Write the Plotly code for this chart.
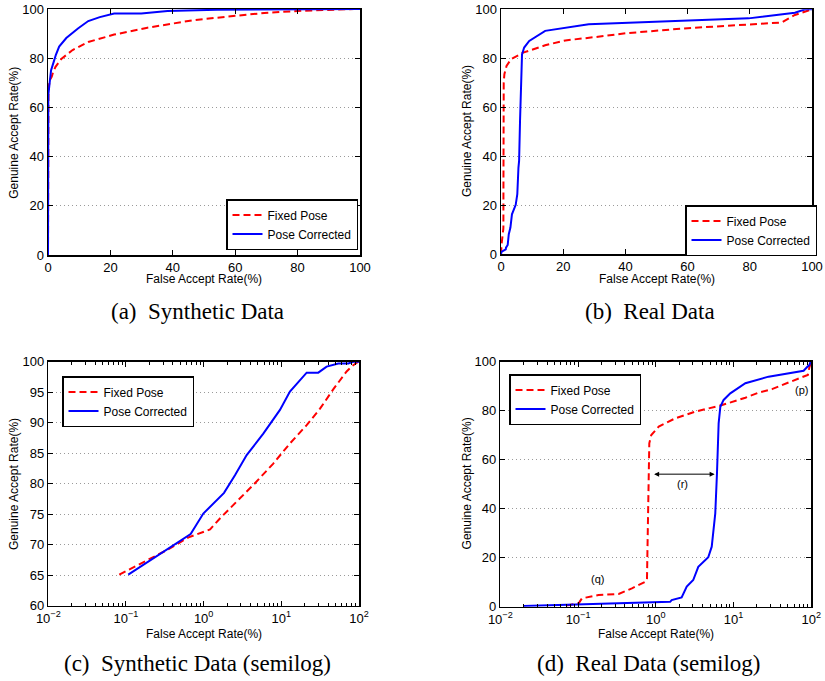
import math
import plotly.graph_objects as go

# ---------------- data ----------------
# Synthetic data
syn_fixed_far = [0.082, 0.151, 0.334, 0.64, 1.21, 1.62, 2.41, 4.36, 7.88, 12.9, 21.2, 31.5, 46.8, 69.3, 82, 98]
syn_fixed_gar = [65.1, 66.8, 69.1, 71.2, 72.5, 74.3, 76.5, 79.8, 83.3, 86.6, 89.6, 92.3, 95.5, 98.4, 99.3, 100]
syn_corr_far = [0.107, 0.68, 0.99, 1.83, 2.53, 3.58, 5.86, 9.6, 12.9, 16.6, 21.2, 29.9, 38.3, 54.2, 72.9, 84.6, 100]
syn_corr_gar = [65.1, 71.75, 75.1, 78.5, 81.4, 84.7, 88.2, 92.1, 95.1, 96.7, 98.2, 98.2, 99.2, 99.7, 99.7, 100, 100]

# Real data
real_fixed_far = [0.071, 0.102, 0.112, 0.184, 0.333, 0.493, 0.732, 0.77, 0.785, 0.80, 0.825, 0.875,
                  1.09, 1.78, 3.22, 7.1, 14.2, 20.7, 31.2, 40, 60, 83.8, 90.3, 94.5, 100]
real_fixed_gar = [0.5, 1.4, 3.4, 4.8, 5.2, 7.5, 10.2, 10.9, 27.2, 54.4, 66.7, 70.1,
                  73.5, 76.9, 79.6, 82.3, 85.3, 87.3, 88.8, 90.2, 92.3, 93.9, 94.6, 97.7, 100]
real_corr_far = [0.02, 0.102, 1.53, 1.60, 2.15, 2.50, 3.03, 3.52, 4.73, 5.24, 5.61, 5.82, 6.12, 6.43,
                 6.76, 7.45, 9.08, 14.2, 28.2, 79.6, 90.3, 94.5, 97.8, 100]
real_corr_gar = [0.3, 1.0, 2.0, 2.7, 3.8, 8.2, 10.9, 16.3, 20.2, 24.5, 35.4, 38.1, 54.4, 74.8,
                 81.6, 84.4, 87.1, 91.2, 93.9, 96.3, 98.1, 98.6, 100, 100]

origin_far = [0]
origin_gar = [0]

series_names = ["Fixed Pose", "Pose Corrected"]
captions = ["(a)\u2002Synthetic Data", "(b)\u2002Real Data",
            "(c)\u2002Synthetic Data (semilog)", "(d)\u2002Real Data (semilog)"]
x_title = "False Accept Rate(%)"
y_title = "Genuine Accept Rate(%)"
log_tickvals = [0.01, 0.1, 1, 10, 100]
log_ticktext = ["10<sup>\u22122</sup>", "10<sup>\u22121</sup>", "10<sup>0</sup>", "10<sup>1</sup>", "10<sup>2</sup>"]

# (p), (q), (r) annotations in panel (d)
note_p = (75.9, 88.4)
note_q = (0.179, 11.2)
note_r = (2.21, 50.1)
arrow_r = (0.91, 5.71, 54.1)

# ---------------- layout helpers ----------------
W, H = 825, 681
SANS = "Liberation Sans, Arial, Helvetica, sans-serif"
SERIF = "Liberation Serif, Times New Roman, serif"
RED = "#ff0000"
BLUE = "#0000ff"


def px(xp):
    return xp / W


def py(yp):
    return 1 - yp / H


def xd(a, b):
    return [px(a), px(b)]


def yd(top, bottom):
    return [py(bottom), py(top)]


fig = go.Figure()

panels = [
    dict(x="x", y="y", leg="legend", log=False,
         f=(origin_far + syn_fixed_far, origin_gar + syn_fixed_gar),
         c=(origin_far + syn_corr_far, origin_gar + syn_corr_gar)),
    dict(x="x2", y="y2", leg="legend2", log=False,
         f=(origin_far + real_fixed_far, origin_gar + real_fixed_gar),
         c=(origin_far + real_corr_far, origin_gar + real_corr_gar)),
    dict(x="x3", y="y3", leg="legend3", log=True,
         f=(syn_fixed_far, syn_fixed_gar), c=(syn_corr_far, syn_corr_gar)),
    dict(x="x4", y="y4", leg="legend4", log=True,
         f=(real_fixed_far, real_fixed_gar), c=(real_corr_far, real_corr_gar)),
]

for p in panels:
    fig.add_trace(go.Scatter(x=p["f"][0], y=p["f"][1], mode="lines", name=series_names[0],
                             line=dict(color=RED, width=2, dash="7px,4px"),
                             xaxis=p["x"], yaxis=p["y"], legend=p["leg"]))
    fig.add_trace(go.Scatter(x=p["c"][0], y=p["c"][1], mode="lines", name=series_names[1],
                             line=dict(color=BLUE, width=2),
                             xaxis=p["x"], yaxis=p["y"], legend=p["leg"]))

common = dict(showline=True, linecolor="black", linewidth=1.5, mirror="ticks",
              ticks="inside", ticklen=5, tickwidth=1, tickcolor="black",
              zeroline=False, automargin=False, ticklabeloverflow="allow",
              tickfont=dict(family=SANS, size=13, color="black"))

minor_log = [k * 10 ** e for e in range(-2, 2) for k in range(2, 10)]


def xaxis_cfg(domain, anchor, log):
    cfg = dict(common, domain=domain, anchor=anchor, showgrid=False)
    if log:
        cfg.update(type="log", range=[-2, 2], tickmode="array", tickvals=log_tickvals,
                   ticktext=log_ticktext,
                   minor=dict(ticks="inside", ticklen=3, tickcolor="black", tickmode="array",
                              tickvals=minor_log, showgrid=False))
    else:
        cfg.update(range=[0, 100], dtick=20, tick0=0)
    return cfg


def yaxis_cfg(domain, anchor, rng, dt):
    return dict(common, domain=domain, anchor=anchor, range=rng, dtick=dt, tick0=rng[0],
                showgrid=True, gridcolor="#9a9a9a", gridwidth=1, griddash="1px,3px")


legend_common = dict(bgcolor="white", bordercolor="black", borderwidth=1.5,
                     font=dict(family=SANS, size=12, color="black"),
                     xanchor="left", yanchor="top", tracegroupgap=0)

fig.update_layout(
    width=W, height=H, margin=dict(l=0, r=0, t=0, b=0),
    paper_bgcolor="white", plot_bgcolor="white", hovermode=False,
    xaxis=xaxis_cfg(xd(48, 360), "y", False),
    yaxis=yaxis_cfg(yd(9, 255), "x", [0, 100], 20),
    xaxis2=xaxis_cfg(xd(501, 812), "y2", False),
    yaxis2=yaxis_cfg(yd(9.3, 254.3), "x2", [0, 100], 20),
    xaxis3=xaxis_cfg(xd(48.3, 359), "y3", True),
    yaxis3=yaxis_cfg(yd(361.7, 605.7), "x3", [60, 100], 5),
    xaxis4=xaxis_cfg(xd(500.3, 811.3), "y4", True),
    yaxis4=yaxis_cfg(yd(361.7, 606.7), "x4", [0, 100], 20),
    legend=dict(legend_common, x=px(226), y=py(199)),
    legend2=dict(legend_common, x=px(685), y=py(205)),
    legend3=dict(legend_common, x=px(62), y=py(376)),
    legend4=dict(legend_common, x=px(509), y=py(374)),
    showlegend=True,
)

# axis titles (placed as text at the reference positions)
title_font = dict(family=SANS, size=12, color="black")
x_title_pos = [(204, 278.5), (657, 278.5), (204, 634), (656, 634)]
y_title_pos = [(13.3, 132.5), (467, 131), (13.3, 483.7), (466.7, 483.7)]
for (cx, cy) in x_title_pos:
    fig.add_annotation(text=x_title, x=px(cx), y=py(cy), xref="paper", yref="paper",
                       showarrow=False, xanchor="center", yanchor="middle", font=title_font)
for (cx, cy) in y_title_pos:
    fig.add_annotation(text=y_title, x=px(cx), y=py(cy), xref="paper", yref="paper",
                       showarrow=False, xanchor="center", yanchor="middle", textangle=-90,
                       font=title_font)

# captions
cap_pos = [(197, 311), (650, 311), (197, 663), (649, 663)]
for text, (cx, cy) in zip(captions, cap_pos):
    fig.add_annotation(text=text, x=px(cx), y=py(cy), xref="paper", yref="paper",
                       showarrow=False, xanchor="center", yanchor="middle",
                       font=dict(family=SERIF, size=23, color="black"))

note_font = dict(family=SANS, size=11, color="black")
for label, (nx, ny) in zip(["(p)", "(q)", "(r)"], [note_p, note_q, note_r]):
    fig.add_annotation(text=label, x=math.log10(nx), y=ny, xref="x4", yref="y4",
                       showarrow=False, font=note_font)

fig.add_annotation(text="", x=math.log10(arrow_r[1]), y=arrow_r[2],
                   ax=math.log10(arrow_r[0]), ay=arrow_r[2], xref="x4", yref="y4",
                   axref="x4", ayref="y4", showarrow=True, arrowhead=2, startarrowhead=2,
                   arrowside="end+start", arrowwidth=1, arrowsize=1, arrowcolor="black",
                   standoff=0, startstandoff=0)

# remove the page's default body margin so the figure sits at the window's corner
fig.write_html("out.html", config={"displayModeBar": False, "staticPlot": True},
               post_script="document.body.style.margin='0px';")
